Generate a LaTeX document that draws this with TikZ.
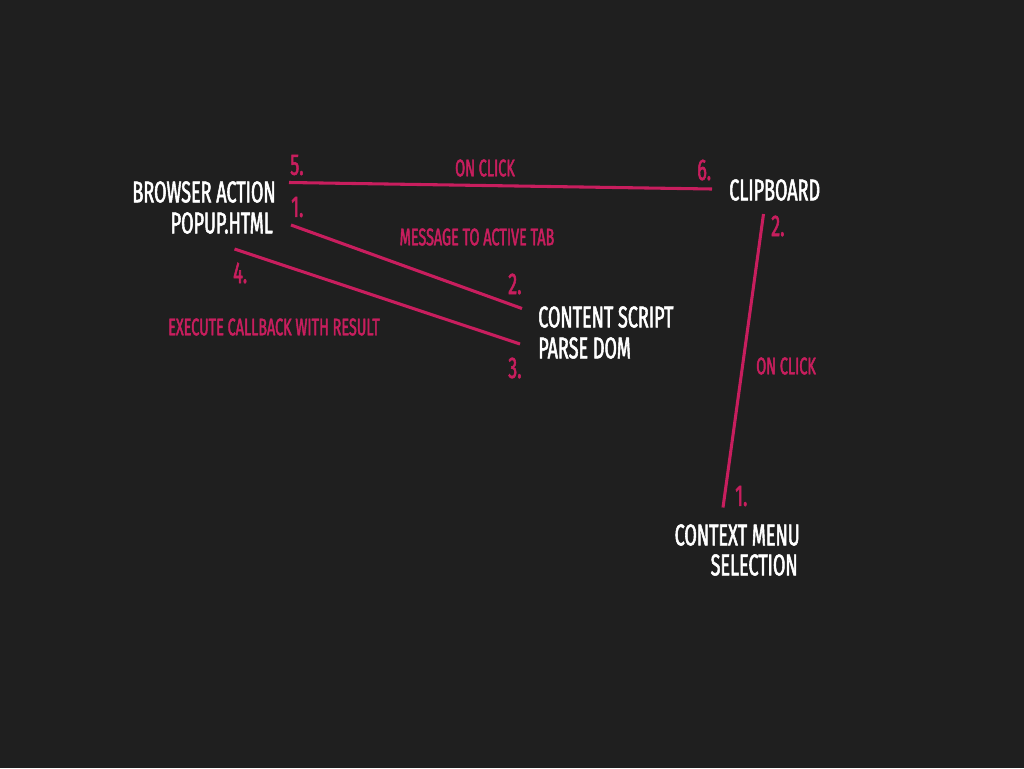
\documentclass[tikz,border=0pt]{standalone}
\usepackage{fontspec}
\setmainfont[FakeStretch=0.6,FakeBold=1.8]{Fira Sans}
\begin{document}
\begin{tikzpicture}[x=0.75pt,y=-0.75pt,
  whitelbl/.style={text=white,font=\fontsize{22.5}{22.5}\selectfont,inner sep=0pt},
  pinklbl/.style={text=pk,font=\fontsize{18}{18}\selectfont,inner sep=0pt},
  numlbl/.style={text=pk,font=\fontsize{22.5}{22.5}\selectfont,inner sep=0pt},
  link/.style={draw=pk,line width=2.3pt}]
\definecolor{bg}{HTML}{1F1F1F}
\definecolor{pk}{HTML}{C81E5E}
\fill[bg] (0,0) rectangle (1024,768);
\useasboundingbox (0,0) rectangle (1024,768);
% main nodes
\node[whitelbl,anchor=east] (browser) at (276,192) {BROWSER ACTION};
\node[whitelbl,anchor=east] (popup) at (273,223) {POPUP.HTML};
\node[whitelbl,anchor=west] (clip) at (729,190) {CLIPBOARD};
\node[whitelbl,anchor=west] (content) at (538,317) {CONTENT SCRIPT};
\node[whitelbl,anchor=west] (parse) at (538,348) {PARSE DOM};
\node[whitelbl,anchor=east] (ctx) at (800,535) {CONTEXT MENU};
\node[whitelbl,anchor=east] (sel) at (798,565) {SELECTION};
% numbers
\node[numlbl,anchor=west] (n5) at (290,165) {5.};
\node[numlbl,anchor=west] (n1a) at (291,207) {1.};
\node[numlbl,anchor=west] (n4) at (233,273) {4.};
\node[numlbl,anchor=west] (n6) at (697,170) {6.};
\node[numlbl,anchor=west] (n2b) at (771,226) {2.};
\node[numlbl,anchor=west] (n2a) at (508,284) {2.};
\node[numlbl,anchor=west] (n3) at (508,368) {3.};
\node[numlbl,anchor=west] (n1b) at (735,496) {1.};
% pink labels
\node[pinklbl] (onclick1) at (485,168) {ON CLICK};
\node[pinklbl] (msg) at (477,237) {MESSAGE TO ACTIVE TAB};
\node[pinklbl] (exec) at (274,327) {EXECUTE CALLBACK WITH RESULT};
\node[pinklbl,anchor=west] (onclick2) at (756,366) {ON CLICK};
% connector ends
\coordinate (a5) at (289,182.5);
\coordinate (a6) at (712,189);
\coordinate (b1) at (291,225);
\coordinate (b2) at (522,308.5);
\coordinate (c4) at (234.5,249);
\coordinate (c3) at (520,344);
\coordinate (d2) at (763.5,214);
\coordinate (d1) at (723,507.5);
\draw[link] (a5) -- (a6);
\draw[link] (b1) -- (b2);
\draw[link] (c4) -- (c3);
\draw[link] (d2) -- (d1);
\end{tikzpicture}
\end{document}
